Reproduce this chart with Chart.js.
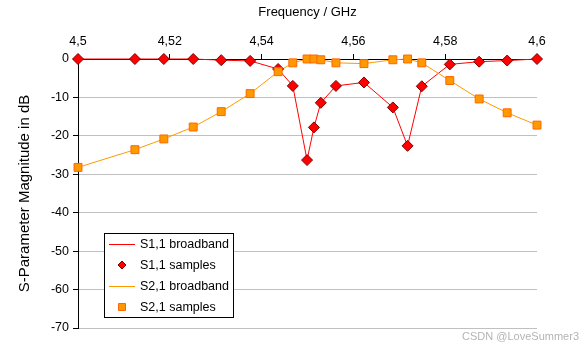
<!DOCTYPE html>
<html>
<head>
<meta charset="utf-8">
<title>S-Parameter</title>
<script src="https://cdn.jsdelivr.net/npm/chart.js@4/dist/chart.umd.min.js"></script>
<style>
    body { margin: 0; background: #fff; }
    .chart_box { width: 583px; height: 347px; position: relative; }
</style>
</head>
<body>
<div class="chart_box"><canvas id="sparams"></canvas></div>
<script>
// frequency samples in GHz
const freqs = [4.5, 4.5124, 4.5187, 4.5251, 4.5312, 4.5375, 4.5436, 4.5468, 4.5499, 4.5514,
               4.5529, 4.5562, 4.5623, 4.5686, 4.5718, 4.5749, 4.5810, 4.5874, 4.5935, 4.6];
// magnitudes in dB
const s11 = [0, 0, 0, 0, -0.3, -0.5, -2.6, -7.0, -26.3, -17.8,
             -11.4, -7.0, -6.1, -12.6, -22.6, -7.1, -1.4, -0.7, -0.4, 0];
const s21 = [-28.2, -23.6, -20.8, -17.7, -13.7, -9.0, -3.3, -1.0, 0, 0,
             -0.2, -1.0, -1.2, -0.2, 0, -1.0, -5.6, -10.4, -14.0, -17.2];
const xTicks = [4.5, 4.52, 4.54, 4.56, 4.58, 4.6];
const yTicks = [0, -10, -20, -30, -40, -50, -60, -70];

const toPoints = (ys) => freqs.map((f, i) => ({ x: f, y: ys[i] }));
const fmt = (v) => Number(v.toFixed(2)).toString().replace(".", ",");

// boxed legend in the lower left of the plot
const boxLegend = {
    id: "boxLegend",
    afterDraw(chart) {
        const c = chart.ctx;
        const x0 = 104.5, y0 = 233.5, w = 129, h = 84;
        c.save();
        c.fillStyle = "#fff";
        c.fillRect(x0, y0, w, h);
        c.strokeStyle = "#000";
        c.lineWidth = 1;
        c.strokeRect(x0, y0, w, h);
        c.font = "12.5px 'Liberation Sans', Arial, sans-serif";
        c.textBaseline = "middle";
        chart.data.datasets.forEach((ds, i) => {
            const y = 244 + i * 21;
            if (ds.showLine !== false) {
                c.strokeStyle = ds.borderColor;
                c.beginPath();
                c.moveTo(109, y + 0.5);
                c.lineTo(135, y + 0.5);
                c.stroke();
            } else {
                c.fillStyle = ds.pointBackgroundColor;
                c.strokeStyle = ds.pointBorderColor;
                c.beginPath();
                if (ds.pointStyle === "rectRot") {
                    c.moveTo(122 - 4, y);
                    c.lineTo(122, y - 4);
                    c.lineTo(122 + 4, y);
                    c.lineTo(122, y + 4);
                    c.closePath();
                } else {
                    c.rect(118.5, y - 3.5, 7, 7);
                }
                c.fill();
                c.stroke();
            }
            c.fillStyle = "#000";
            c.fillText(ds.label, 140, y + 1);
        });
        c.font = "11px 'Liberation Sans', Arial, sans-serif";
        c.fillStyle = "#b4b4b4";
        c.textAlign = "right";
        c.fillText("CSDN @LoveSummer3", 579, 337);
        c.restore();
    }
};

new Chart(document.getElementById("sparams"), {
    type: "scatter",
    data: {
        datasets: [
            {
                label: "S1,1 broadband",
                data: toPoints(s11),
                showLine: true,
                borderColor: "#ff0000",
                borderWidth: 1,
                pointRadius: 0,
                order: 3,
                clip: false
            },
            {
                label: "S1,1 samples",
                data: toPoints(s11),
                showLine: false,
                pointStyle: "rectRot",
                pointRadius: 5.5,
                pointBackgroundColor: "#ff0000",
                pointBorderColor: "#800000",
                pointBorderWidth: 1,
                order: 1,
                clip: false
            },
            {
                label: "S2,1 broadband",
                data: toPoints(s21),
                showLine: true,
                borderColor: "#ff9900",
                borderWidth: 1,
                pointRadius: 0,
                order: 2,
                clip: false
            },
            {
                label: "S2,1 samples",
                data: toPoints(s21),
                showLine: false,
                pointStyle: "rect",
                pointRadius: 5.6,
                pointBackgroundColor: "#ff9900",
                pointBorderColor: "#ff6600",
                pointBorderWidth: 1,
                order: 0,
                clip: false
            }
        ]
    },
    options: {
        responsive: true,
        maintainAspectRatio: false,
        animation: false,
        layout: { padding: { left: 0, right: 46, top: 1, bottom: 19 } },
        plugins: {
            legend: { display: false },
            tooltip: { enabled: false }
        },
        scales: {
            x: {
                type: "linear",
                position: "top",
                min: 4.5,
                max: 4.6,
                afterFit: (scale) => { scale.height = 58; },
                afterBuildTicks: (scale) => { scale.ticks = xTicks.map(v => ({ value: v })); },
                border: { color: "#000", width: 1 },
                grid: { drawOnChartArea: false, tickLength: 5, tickColor: "#000" },
                ticks: {
                    color: "#000",
                    padding: 5,
                    maxRotation: 0,
                    font: { family: "'Liberation Sans', Arial, sans-serif", size: 12.5 },
                    callback: (v) => fmt(v)
                },
                title: {
                    display: true,
                    text: "Frequency / GHz",
                    color: "#000",
                    padding: { top: 4, bottom: 0 },
                    font: { family: "'Liberation Sans', Arial, sans-serif", size: 13 }
                }
            },
            y: {
                min: -70,
                max: 0,
                afterFit: (scale) => { scale.width = 78; },
                afterBuildTicks: (scale) => { scale.ticks = yTicks.map(v => ({ value: v })); },
                border: { color: "#000", width: 1 },
                grid: { color: "#c0c0c0", tickColor: "#000", tickLength: 5 },
                ticks: {
                    color: "#000",
                    padding: 4,
                    font: { family: "'Liberation Sans', Arial, sans-serif", size: 12.5 }
                },
                title: {
                    display: true,
                    text: "S-Parameter Magnitude in dB",
                    color: "#000",
                    padding: { top: 16, bottom: 0 },
                    font: { family: "'Liberation Sans', Arial, sans-serif", size: 15 }
                }
            }
        }
    },
    plugins: [boxLegend]
});
</script>
</body>
</html>
